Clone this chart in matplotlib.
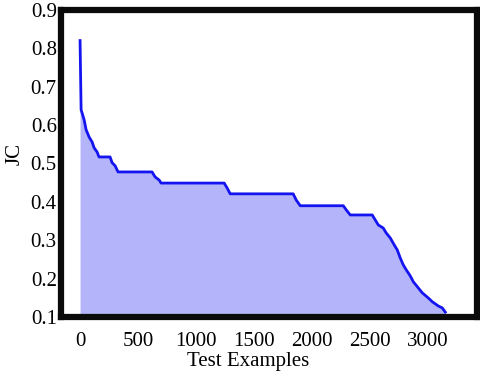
import matplotlib
matplotlib.use('Agg')
import matplotlib.pyplot as plt

# test examples sorted by JC score
examples = [0, 9, 35, 52, 78, 104, 121, 147, 164, 259,
            277, 303, 328, 622, 648, 683, 700, 1245, 1271, 1297,
            1841, 1867, 1902, 2274, 2300, 2334, 2524, 2550, 2576, 2619,
            2645, 2680, 2714, 2740, 2766, 2792, 2818, 2853, 2879, 2922,
            2957, 3008, 3043, 3095, 3129, 3155]
jc = [0.820, 0.640, 0.614, 0.588, 0.569, 0.556, 0.541, 0.530, 0.517, 0.517,
      0.502, 0.494, 0.478, 0.478, 0.465, 0.457, 0.449, 0.449, 0.436, 0.421,
      0.421, 0.405, 0.390, 0.390, 0.379, 0.366, 0.366, 0.353, 0.340, 0.332,
      0.319, 0.306, 0.288, 0.275, 0.254, 0.236, 0.223, 0.207, 0.192, 0.176,
      0.163, 0.150, 0.140, 0.129, 0.124, 0.113]
xticks = [0, 500, 1000, 1500, 2000, 2500, 3000]
yticks = [0.1, 0.2, 0.3, 0.4, 0.5, 0.6, 0.7, 0.8, 0.9]

plt.rcParams['font.family'] = ['Liberation Serif', 'DejaVu Serif']

fig = plt.figure(figsize=(4.8, 3.78), dpi=100)
ax = fig.add_axes([0.127, 0.161, 0.867, 0.813])

ax.fill_between(examples, jc, 0.1, color='#b4b4fa', linewidth=0)
ax.plot(examples, jc, color='#1414f0', linewidth=2.0)

ax.set_xlim(-165, 3430)
ax.set_ylim(0.1, 0.9)
ax.set_xticks(xticks)
ax.set_yticks(yticks)
ax.set_xticklabels([str(t) for t in xticks])
ax.set_yticklabels(['%.1f' % t for t in yticks])
ax.tick_params(axis='both', length=0, labelsize=15)
ax.tick_params(axis='x', pad=11)
ax.tick_params(axis='y', pad=3)

for s in ax.spines.values():
    s.set_linewidth(4.5)
    s.set_color('#0a0a0a')

ax.set_xlabel('Test Examples', fontsize=15)
ax.xaxis.set_label_coords(0.45, -0.112)
ax.set_ylabel('JC', fontsize=15)
ax.yaxis.set_label_coords(-0.087, 0.53)

fig.savefig('out.png', dpi=100)
